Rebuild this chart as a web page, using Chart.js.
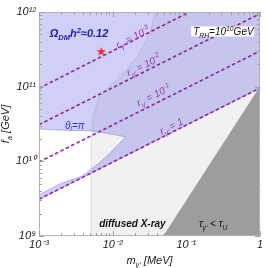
<!DOCTYPE html>
<html>
<head>
<meta charset="utf-8">
<script src="https://cdn.jsdelivr.net/npm/chart.js@4.4.0/dist/chart.umd.min.js"></script>
<style>
  body { margin: 0; background: #fff; }
</style>
</head>
<body>
<canvas id="wykres" width="266" height="268"></canvas>
<script>
// osie
const mTicks = [1e-3, 1e-2, 1e-1, 1];
const mTickLabels = ['10⁻³', '10⁻²', '10⁻¹', '1'];
const faTicks = [1e9, 1e10, 1e11, 1e12];
const faTickLabels = ['10⁹', '10¹⁰', '10¹¹', '10¹²'];

// linie r_gamma' = const (od lewej do prawej)
const rBase = ['10', '10', '10', '1'];
const rExp = ['-3', '-2', '-1', ''];
const rM = [[1e-3, 0.11], [1e-3, 1], [1e-3, 1], [1e-3, 1]];
const rFa = [[9.5e10, 1e12], [3.1e10, 9.5e11], [9.8e9, 3.0e11], [3.1e9, 9.6e10]];
const rLabelM = [0.0187, 0.0263, 0.0358, 0.0624];
const rLabelFa = [4.6e11, 1.95e11, 7.7e10, 2.97e10];

// obszar Omega h^2 = 0.12 (niebieski)
const blueM = [8e-4, 1.2, 1.2, 8e-4, 8e-4, 1e-3, 1.91e-3, 3.88e-3, 6.56e-3, 8.93e-3, 1.14e-2, 1.37e-2, 1.51e-2,
               1.14e-2, 7.66e-3, 5.13e-3, 1.91e-3, 1e-3, 8e-4, 8e-4];
const blueFa = [1.2e12, 1.2e12, 1.05e11, 2.77e9, 3.2e9, 3.54e9, 4.98e9, 6.37e9, 9.5e9, 1.25e10, 1.6e10, 1.93e10, 2.12e10,
                2.25e10, 2.4e10, 2.55e10, 2.63e10, 2.71e10, 2.71e10, 1.2e12];

// diffused X-ray (jasnoszary)
const xrayM = [5.13e-3, 5.13e-3, 5.46e-3, 6.56e-3, 9.5e-3, 1.56e-2, 2.39e-2, 3.26e-2, 3.8e-2, 3.9e-2, 1.2, 1.2, 5.13e-3];
const xrayFa = [8e8, 1.93e10, 4.18e10, 7.28e10, 1.05e11, 1.67e11, 2.91e11, 5.4e11, 1e12, 1.2e12, 1.2e12, 8e8, 8e8];

// tau_gamma' < tau_U (ciemnoszary)
const grayM = [4.9e-2, 1, 1.2, 1.2, 4.9e-2, 4.9e-2];
const grayFa = [1e9, 1e11, 1.32e11, 8e8, 8e8, 1e9];

// gwiazdka
const starM = [6.98e-3];
const starFa = [2.96e11];

const pary = (xs, ys) => xs.map((v, i) => ({x: v, y: ys[i]}));

const FONT = '"Liberation Sans", Arial, sans-serif';

// tekst z indeksami dolnymi/gornymi: [tekst, 0 zwykly | 1 dolny | 2 gorny]
function napis(ctx, parts, x, y, size, style, color, align) {
    const fonts = parts.map(p => style + ' ' + (p[1] ? size * 0.68 : size) + 'px ' + FONT);
    let w = 0;
    parts.forEach((p, i) => { ctx.font = fonts[i]; w += ctx.measureText(p[0]).width; });
    let cx = align === 'left' ? x : x - w / 2;
    ctx.fillStyle = color;
    ctx.textAlign = 'left';
    ctx.textBaseline = 'alphabetic';
    parts.forEach((p, i) => {
        ctx.font = fonts[i];
        const dy = p[1] === 1 ? size * 0.28 : (p[1] === 2 ? -size * 0.42 : 0);
        ctx.fillText(p[0], cx, y + dy);
        cx += ctx.measureText(p[0]).width;
    });
    return w;
}

const gwiazda = document.createElement('canvas');
gwiazda.width = 11; gwiazda.height = 11;
const g = gwiazda.getContext('2d');
g.beginPath();
for (let k = 0; k < 10; k++) {
    const r = k % 2 ? 2.0 : 4.8;
    const a = -Math.PI / 2 + k * Math.PI / 5;
    g.lineTo(5.5 + r * Math.cos(a), 5.8 + r * Math.sin(a));
}
g.closePath();
g.fillStyle = '#ff2626';
g.fill();

const dodatki = {
    id: 'dodatki',
    afterDatasetsDraw(chart) {
        const {ctx, chartArea: a, scales: {x, y}} = chart;
        ctx.save();

        // etykiety linii r
        for (let i = 0; i < rM.length; i++) {
            const x0 = x.getPixelForValue(rM[i][0]), y0 = y.getPixelForValue(rFa[i][0]);
            const x1 = x.getPixelForValue(rM[i][1]), y1 = y.getPixelForValue(rFa[i][1]);
            const ang = Math.atan2(y1 - y0, x1 - x0);
            ctx.save();
            ctx.translate(x.getPixelForValue(rLabelM[i]), y.getPixelForValue(rLabelFa[i]));
            ctx.rotate(ang);
            const parts = [['r', 0], ["γ'", 1], [' = ' + rBase[i], 0]];
            if (rExp[i]) parts.push([rExp[i], 2]);
            napis(ctx, parts, 0, 3.5, 10, 'italic', '#9a3aae');
            ctx.restore();
        }

        // Omega h^2
        napis(ctx, [['Ω', 0], ['DM', 1], ['h', 0], ['2', 2], ['≈0.12', 0]],
              x.getPixelForValue(1.4e-3), y.getPixelForValue(4.6e11), 11, 'italic bold', '#2323a8', 'left');

        // theta_i = pi
        napis(ctx, [['θ', 0], ['i', 1], ['=π', 0]],
              x.getPixelForValue(2.25e-3), y.getPixelForValue(2.75e10), 10, 'italic', '#3434c4', 'left');

        // T_RH
        const bx = x.getPixelForValue(0.12), by = y.getPixelForValue(6.4e11);
        ctx.fillStyle = '#fff';
        ctx.fillRect(bx - 1, by, 63, 10);
        napis(ctx, [['T', 0], ['RH', 1], ['=10', 0], ['10', 2], ['GeV', 0]],
              bx + 1, by + 8.5, 10, 'italic', '#111', 'left');

        // diffused X-ray
        napis(ctx, [['diffused X-ray', 0]],
              x.getPixelForValue(6.56e-3), y.getPixelForValue(1.32e9), 10, 'italic bold', '#111', 'left');

        // tau < tau_U
        napis(ctx, [['τ', 0], ["γ'", 1], [' < τ', 0], ['U', 1]],
              x.getPixelForValue(0.148), y.getPixelForValue(1.32e9), 10, 'italic', '#111', 'left');

        // ramka
        ctx.strokeStyle = '#b4b4b4';
        ctx.lineWidth = 1;
        ctx.strokeRect(a.left + 0.5, a.top + 0.5, a.right - a.left - 1, a.bottom - a.top - 1);

        // znaczniki do srodka
        ctx.strokeStyle = '#a0a0a0';
        ctx.beginPath();
        for (let e = -3; e <= 0; e++) {
            for (let k = 1; k <= 9; k++) {
                const v = k * Math.pow(10, e);
                if (v > 1.0001) break;
                const len = k === 1 ? 5 : 3;
                const px = Math.round(x.getPixelForValue(v)) + 0.5;
                ctx.moveTo(px, a.bottom); ctx.lineTo(px, a.bottom - len);
                ctx.moveTo(px, a.top); ctx.lineTo(px, a.top + len);
            }
        }
        for (let e = 9; e <= 12; e++) {
            for (let k = 1; k <= 9; k++) {
                const v = k * Math.pow(10, e);
                if (v > 1.0001e12) break;
                const len = k === 1 ? 5 : 3;
                const py = Math.round(y.getPixelForValue(v)) + 0.5;
                ctx.moveTo(a.left, py); ctx.lineTo(a.left + len, py);
                ctx.moveTo(a.right, py); ctx.lineTo(a.right - len, py);
            }
        }
        ctx.stroke();

        // tytuly osi
        napis(ctx, [['m', 0], ["γ'", 1], [' [MeV]', 0]], (a.left + a.right) / 2 + 0, 264, 11, 'italic', '#222');
        ctx.save();
        ctx.translate(9, (a.top + a.bottom) / 2);
        ctx.rotate(-Math.PI / 2);
        napis(ctx, [['f', 0], ['a', 1], [' [GeV]', 0]], 0, 0, 11, 'italic', '#222');
        ctx.restore();

        ctx.restore();
    }
};

const zbiory = [];
zbiory.push({ data: pary(xrayM, xrayFa), fill: 'shape', backgroundColor: '#f1f1f1', borderColor: '#dadada', borderWidth: 1, order: 10 });
zbiory.push({ data: pary(blueM, blueFa), fill: 'shape', backgroundColor: 'rgba(110,110,235,0.33)', borderColor: 'rgba(120,120,225,0.5)', borderWidth: 1, order: 9 });
zbiory.push({ data: pary(grayM, grayFa), fill: 'shape', backgroundColor: '#9d9d9d', borderColor: '#9d9d9d', borderWidth: 0.5, order: 8 });
rM.forEach((m, i) => {
    zbiory.push({ data: pary(m, rFa[i]), fill: false, borderColor: '#93229f', borderWidth: 1.6, borderDash: [3.5, 2.5], order: 5 });
});
zbiory.push({ data: pary(starM, starFa), showLine: false, pointStyle: gwiazda, pointRadius: 5, order: 1 });

const config = {
    type: 'scatter',
    data: { datasets: zbiory.map(d => Object.assign({ showLine: true, pointRadius: 0, tension: 0 }, d)) },
    options: {
        responsive: false,
        animation: false,
        layout: { padding: { top: 12, right: 3, left: 0, bottom: 0 } },
        plugins: { legend: { display: false }, tooltip: { enabled: false } },
        scales: {
            x: {
                type: 'logarithmic', min: 1e-3, max: 1,
                afterBuildTicks: ax => { ax.ticks = mTicks.map(v => ({ value: v })); },
                afterFit: ax => { ax.height = 32; },
                grid: { display: false, drawTicks: false },
                border: { display: false },
                ticks: {
                    autoSkip: false, maxRotation: 0, padding: 2, color: '#222',
                    font: { family: FONT, style: 'italic', size: 11 },
                    callback: v => mTickLabels[mTicks.findIndex(t => Math.abs(Math.log10(t / v)) < 1e-6)]
                }
            },
            y: {
                type: 'logarithmic', min: 1e9, max: 1e12,
                afterBuildTicks: ax => { ax.ticks = faTicks.map(v => ({ value: v })); },
                afterFit: ax => { ax.width = 39; },
                grid: { display: false, drawTicks: false },
                border: { display: false },
                ticks: {
                    autoSkip: false, padding: 3, color: '#222',
                    font: { family: FONT, style: 'italic', size: 11 },
                    callback: v => faTickLabels[faTicks.findIndex(t => Math.abs(Math.log10(t / v)) < 1e-6)]
                }
            }
        }
    },
    plugins: [dodatki]
};

const myChart = new Chart(document.getElementById('wykres'), config);
</script>
</body>
</html>
